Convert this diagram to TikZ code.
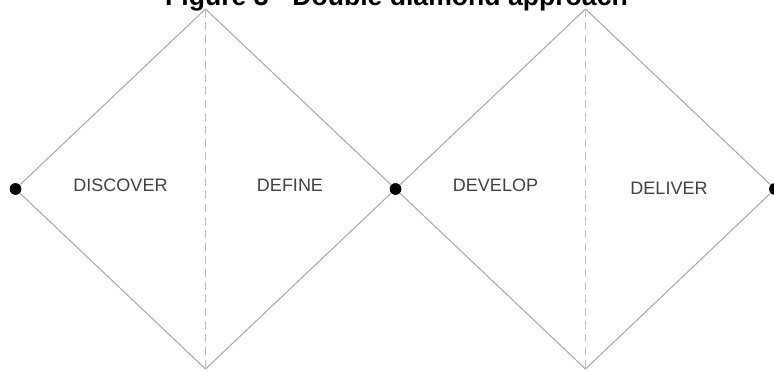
\documentclass[tikz,border=0pt]{standalone}
\usepackage{fontspec}
\setmainfont{Liberation Sans}
\begin{document}
\begin{tikzpicture}[x=1pt,y=-1pt,
  edge/.style={draw=black!35, line width=1pt},
  axis/.style={draw=black!25, line width=1.3pt, dash pattern=on 8pt off 5pt},
  dot/.style={circle, fill=black, inner sep=0pt, minimum size=11.5pt},
  phase/.style={anchor=base, text=black!75, font=\fontsize{18}{20}\selectfont, inner sep=0pt},
  title/.style={anchor=base, font=\bfseries\fontsize{26.6}{30}\selectfont, inner sep=0pt}]
\useasboundingbox (0,0) rectangle (774,372);
% apexes
\coordinate (t1) at (205.5,9);
\coordinate (b1) at (205.5,369);
\coordinate (t2) at (585.5,9);
\coordinate (b2) at (585.5,369);
% dots
\node[dot] (p1) at (15.5,189) {};
\node[dot] (p2) at (395.5,189) {};
\node[dot] (p3) at (775,189) {};
% diamonds
\draw[edge] (p1.center) -- (t1) -- (p2.center) -- (b1) -- cycle;
\draw[edge] (p2.center) -- (t2) -- (p3.center) -- (b2) -- cycle;
\draw[axis] (t1) -- (b1);
\draw[axis] (t2) -- (b2);
\node[dot] at (p1) {};
\node[dot] at (p2) {};
\node[dot] at (p3) {};
% labels
\node[phase] (l1) at (120.5,191.7) {DISCOVER};
\node[phase] (l2) at (290,191.7) {DEFINE};
\node[phase] (l3) at (495.5,191.7) {DEVELOP};
\node[phase] (l4) at (669,194.5) {DELIVER};
\node[title] (ttl) at (396.5,5.5) {Figure 3 - Double diamond approach};
\end{tikzpicture}
\end{document}
